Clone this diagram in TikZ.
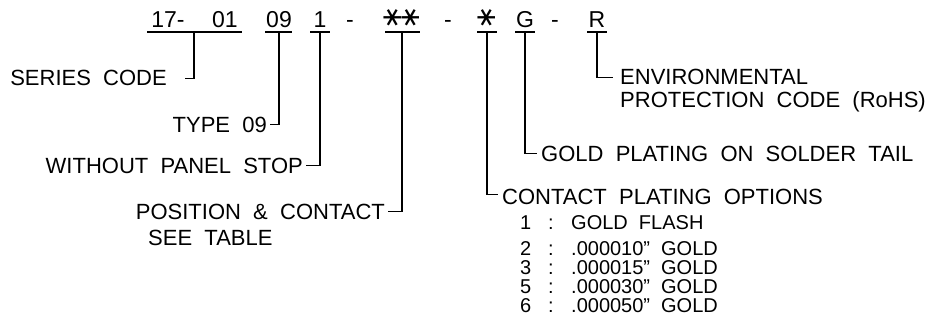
\documentclass[tikz,border=0pt]{standalone}
\usepackage{graphicx}
\usepackage{fontspec}
\setmainfont{Liberation Sans}[WordSpace=2]
\newfontfamily\symfont{DejaVu Sans}
\newcommand{\optline}[2]{\makebox[28pt][l]{#1}\makebox[23pt][l]{:}#2}
\newcommand{\optval}[1]{\makebox[90pt][l]{#1}GOLD}
\begin{document}
\begin{tikzpicture}[x=1pt,y=1pt,
  txt/.style={inner sep=0pt, font=\fontsize{22}{24}\selectfont},
  opt/.style={inner sep=0pt, anchor=base west, font=\fontsize{20}{22}\selectfont},
  code/.style={inner sep=0pt, anchor=base, font=\fontsize{23}{24}\selectfont},
  ast/.style={inner sep=0pt, anchor=center, font=\symfont\fontsize{28}{28}\selectfont},
  ldr/.style={line width=1.5pt, line join=miter},
]
\useasboundingbox (0,0) rectangle (944,-326);
% part number
\node[code] (c17) at (168,-28) {17-};
\node[code] (c01) at (225,-28) {01};
\node[code] (c09) at (279,-28) {09};
\node[code] (c1)  at (320,-28) {1};
\node[code] (d1)  at (350,-28) {-};
\node[ast]  (a1)  at (393,-18) {\rotatebox[origin=c]{90}{∗}};
\node[ast]  (a2)  at (411,-18) {\rotatebox[origin=c]{90}{∗}};
\node[code] (d2)  at (448,-28) {-};
\node[ast]  (a3)  at (487,-18) {\rotatebox[origin=c]{90}{∗}};
\node[code] (cG)  at (525,-28) {G};
\node[code] (d3)  at (555,-28) {-};
\node[code] (cR)  at (597,-28) {R};
% underline bars and leader origins
\draw[ldr] (147,-32) -- (242,-32);
\draw[ldr] (265,-32) -- (292,-32);
\draw[ldr] (310,-32) -- (330,-32);
\draw[ldr] (385,-32) -- (420,-32);
\draw[ldr] (477,-32) -- (497,-32);
\draw[ldr] (515,-32) -- (535,-32);
\draw[ldr] (587,-32) -- (607,-32);
\coordinate (uS) at (194,-32);
\coordinate (uT) at (279,-32);
\coordinate (uW) at (320,-32);
\coordinate (uP) at (402,-32);
\coordinate (uC) at (487,-32);
\coordinate (uG) at (525,-32);
\coordinate (uR) at (597,-32);
% labels
\node[txt, anchor=base east] (series) at (167,-86) {SERIES CODE};
\node[txt, anchor=base east] (type) at (267,-132) {TYPE 09};
\node[txt, anchor=base east] (without) at (303,-173) {WITHOUT PANEL STOP};
\node[txt, anchor=base east] (pos) at (385,-219) {POSITION \& CONTACT};
\node[txt, anchor=base west] (see) at (148,-245) {SEE TABLE};
\node[txt, anchor=base west] (cpo) at (502,-204) {CONTACT PLATING OPTIONS};
\node[opt] (o1) at (520,-229) {\optline{1}{GOLD FLASH}};
\node[opt] (o2) at (520,-255) {\optline{2}{\optval{.000010”}}};
\node[opt] (o3) at (520,-274) {\optline{3}{\optval{.000015”}}};
\node[opt] (o5) at (520,-293) {\optline{5}{\optval{.000030”}}};
\node[opt] (o6) at (520,-312) {\optline{6}{\optval{.000050”}}};
\node[txt, anchor=base west] (gold) at (541,-161) {GOLD PLATING ON SOLDER TAIL};
\node[txt, anchor=base west] (env) at (620,-85) {ENVIRONMENTAL};
\node[txt, anchor=base west] (prot) at (620,-107) {PROTECTION CODE (RoHS)};
% leaders
\draw[ldr] (uS) |- ([xshift=18pt]series.east);
\draw[ldr] (uT) |- ([xshift=3pt]type.east);
\draw[ldr] (uW) |- ([xshift=3pt]without.east);
\draw[ldr] (uP) |- ([xshift=3pt]pos.east);
\draw[ldr] (uC) |- ([xshift=-4pt,yshift=2pt]cpo.west);
\draw[ldr] (uG) |- ([xshift=-4pt]gold.west);
\draw[ldr] (uR) |- ([xshift=-7pt]env.west);
\end{tikzpicture}
\end{document}
